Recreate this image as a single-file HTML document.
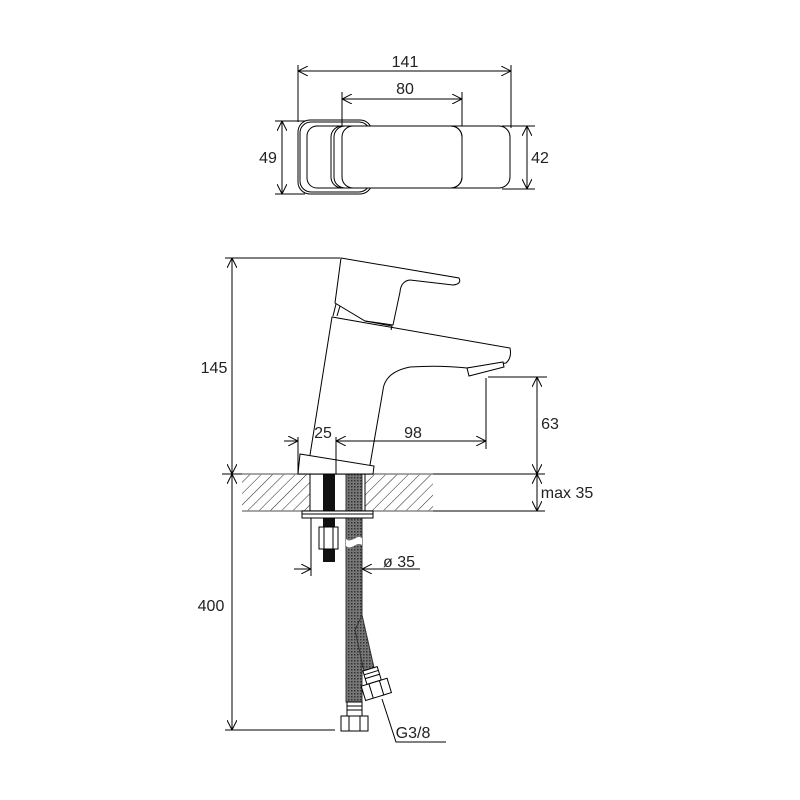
<!DOCTYPE html>
<html><head><meta charset="utf-8"><style>
html,body{margin:0;padding:0;background:#fff}
svg{display:block}
text{font-family:"Liberation Sans",sans-serif;font-size:16px;fill:#222}
</style></head><body>
<svg width="800" height="800" viewBox="0 0 800 800" xmlns="http://www.w3.org/2000/svg">
<defs>
<pattern id="h" width="8" height="8" patternUnits="userSpaceOnUse" patternTransform="rotate(45)">
<line x1="0" y1="0" x2="0" y2="8" stroke="#222" stroke-width="1"/>
</pattern>
<pattern id="b" width="3" height="3" patternUnits="userSpaceOnUse">
<rect width="3" height="3" fill="#777"/><rect width="1.5" height="1.5" fill="#333"/>
</pattern>
<marker id="a" viewBox="0 0 10 10" refX="10" refY="5" markerWidth="10" markerHeight="10" orient="auto-start-reverse" markerUnits="userSpaceOnUse">
<path d="M0,0 L10,5 L0,10" fill="none" stroke="#000" stroke-width="1"/>
</marker>
</defs>
<g fill="none" stroke="#000" stroke-width="1">
<!-- TOP VIEW -->
<line x1="298" y1="65" x2="298" y2="122"/>
<line x1="511" y1="65" x2="511" y2="128"/>
<line x1="298" y1="71" x2="511" y2="71" marker-start="url(#a)" marker-end="url(#a)"/>
<line x1="342" y1="92" x2="342" y2="135"/>
<line x1="462" y1="92" x2="462" y2="135"/>
<line x1="342" y1="99" x2="462" y2="99" marker-start="url(#a)" marker-end="url(#a)"/>
<line x1="275" y1="121" x2="305" y2="121"/>
<line x1="275" y1="194" x2="305" y2="194"/>
<line x1="282" y1="121" x2="282" y2="194" marker-start="url(#a)" marker-end="url(#a)"/>
<line x1="502" y1="126" x2="535" y2="126"/>
<line x1="502" y1="189" x2="535" y2="189"/>
<line x1="527" y1="126" x2="527" y2="189" marker-start="url(#a)" marker-end="url(#a)"/>
<rect x="298" y="120" width="74" height="74" rx="12"/>
<rect x="300" y="122" width="70" height="70" rx="11"/>
<rect x="307" y="126" width="60" height="62" rx="10" fill="#fff"/>
<rect x="331" y="126" width="179" height="62" rx="11" fill="#fff"/>
<rect x="334" y="126" width="128" height="62" rx="11"/>
<rect x="342" y="126" width="120" height="62" rx="11"/>
<!-- SIDE VIEW hatch -->
<rect x="242" y="474" width="68" height="37" fill="url(#h)" stroke="none"/>
<rect x="365" y="474" width="68" height="37" fill="url(#h)" stroke="none"/>
<line x1="242" y1="474" x2="433" y2="474" stroke="#888" stroke-width="1.5"/>
<line x1="242" y1="511" x2="433" y2="511" stroke="#888" stroke-width="1.5"/>
<line x1="310" y1="474" x2="310" y2="511"/>
<line x1="365" y1="474" x2="365" y2="511"/>
<!-- stud -->
<rect x="323" y="474" width="12" height="88" fill="#111" stroke="none"/>
<rect x="319" y="527" width="19" height="22" fill="#fff"/>
<line x1="324" y1="527" x2="324" y2="549"/><line x1="333" y1="527" x2="333" y2="549"/>
<!-- braided hose -->
<rect x="346" y="474" width="16" height="228" fill="url(#b)" stroke="#333"/>
<path d="M346,539 C352,544 356,534 362,538 L362,545 C356,541 352,551 346,546 Z" fill="#fff" stroke="none"/>
<path d="M362,615 L375,672 L365,676 L355,630 Z" fill="url(#b)" stroke="#333"/>
<!-- plate -->
<rect x="302" y="511" width="71" height="7" fill="#fff"/>
<line x1="302" y1="514" x2="373" y2="514"/>
<!-- nuts -->
<rect x="347" y="702" width="15" height="14" fill="#fff"/>
<line x1="347" y1="706" x2="362" y2="706"/><line x1="347" y1="710" x2="362" y2="710"/>
<rect x="341" y="716" width="27" height="15" fill="#fff"/>
<line x1="349" y1="716" x2="349" y2="731"/><line x1="360" y1="716" x2="360" y2="731"/>
<g transform="rotate(-17 376 690)">
<rect x="369" y="668" width="15" height="14" fill="#fff"/>
<line x1="369" y1="672" x2="384" y2="672"/><line x1="369" y1="676" x2="384" y2="676"/>
<rect x="363" y="682" width="27" height="15" fill="#fff"/>
<line x1="371" y1="682" x2="371" y2="697"/><line x1="382" y1="682" x2="382" y2="697"/>
</g>
<polyline points="382,699 396,742 446,742"/>
<!-- faucet base -->
<path d="M300,454 L374,466 L373,474 L298,474 Z" fill="#fff"/>
<!-- body -->
<path d="M310,455 L332,317 L510,348 Q512,358 506,363 L467,368 Q440,365 410,367 Q385,372 383,390 L370,465"/>
<path d="M467,368 L503,362 L504,367 L469,376 Z" fill="#fff"/>
<!-- handle -->
<path d="M341,258 L459,278 Q462,284 453,285 L410,280 Q401,281 400,292 L393,325 L365,321 L335,303 Z" fill="#fff"/>
<path d="M336,304 L333,316 M340,306 L337,316 M365,321 L392,326 L391,330"/>
<!-- side dims -->
<line x1="225" y1="258" x2="340" y2="258"/>
<line x1="222" y1="474" x2="242" y2="474"/>
<line x1="225" y1="730" x2="335" y2="730"/>
<line x1="232" y1="258" x2="232" y2="474" marker-start="url(#a)" marker-end="url(#a)"/>
<line x1="232" y1="474" x2="232" y2="730" marker-start="url(#a)" marker-end="url(#a)"/>
<line x1="298" y1="437" x2="298" y2="474"/>
<line x1="336" y1="437" x2="336" y2="474"/>
<line x1="486" y1="378" x2="486" y2="449"/>
<line x1="284" y1="441" x2="298" y2="441" marker-end="url(#a)"/>
<line x1="336" y1="441" x2="486" y2="441" marker-start="url(#a)" marker-end="url(#a)"/>
<line x1="488" y1="377" x2="547" y2="377"/>
<line x1="433" y1="474" x2="545" y2="474"/>
<line x1="433" y1="511" x2="545" y2="511"/>
<line x1="537" y1="377" x2="537" y2="474" marker-start="url(#a)" marker-end="url(#a)"/>
<line x1="537" y1="474" x2="537" y2="511" marker-start="url(#a)" marker-end="url(#a)"/>
<line x1="311" y1="518" x2="311" y2="576"/>
<line x1="294" y1="569" x2="311" y2="569" marker-end="url(#a)"/>
<line x1="420" y1="569" x2="362" y2="569" marker-end="url(#a)"/>
</g>
<text x="405" y="67" text-anchor="middle">141</text>
<text x="405" y="94" text-anchor="middle">80</text>
<text x="268" y="163" text-anchor="middle">49</text>
<text x="540" y="163" text-anchor="middle">42</text>
<text x="214" y="373" text-anchor="middle">145</text>
<text x="211" y="611" text-anchor="middle">400</text>
<text x="323" y="438" text-anchor="middle">25</text>
<text x="413" y="438" text-anchor="middle">98</text>
<text x="550" y="429" text-anchor="middle">63</text>
<text x="567" y="498" text-anchor="middle">max 35</text>
<text x="383" y="567">ø 35</text>
<text x="413" y="738" text-anchor="middle">G3/8</text>
</svg>
</body></html>
